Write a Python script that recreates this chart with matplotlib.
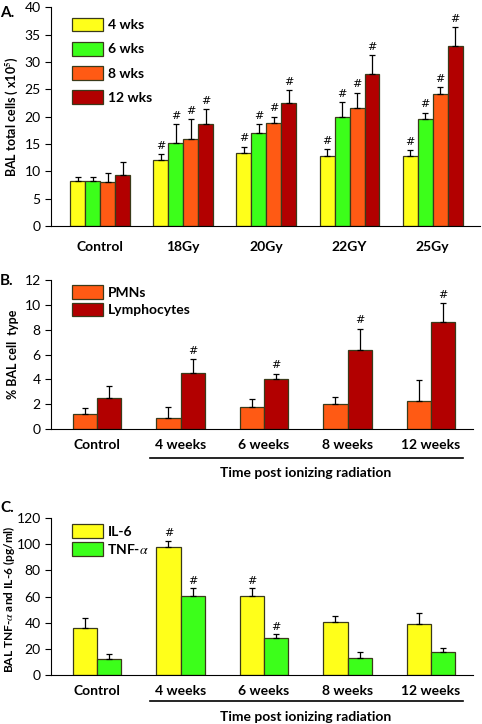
import numpy as np
import matplotlib.pyplot as plt
from matplotlib.lines import Line2D

plt.rcParams['font.family'] = ['Lato', 'DejaVu Sans']
plt.rcParams['mathtext.fontset'] = 'stix'

# ---- data ----
groups_a = ['Control', '18Gy', '20Gy', '22GY', '25Gy']
series_a = ['4 wks', '6 wks', '8 wks', '12 wks']
vals_a = [
    [8.3, 12.1, 13.3, 12.8, 12.8],
    [8.3, 15.2, 17.0, 20.0, 19.5],
    [8.0, 15.9, 18.8, 21.6, 24.1],
    [9.3, 18.6, 22.5, 27.8, 32.9],
]
errs_a = [
    [0.7, 1.0, 1.2, 1.2, 1.0],
    [0.6, 3.4, 1.6, 2.7, 1.2],
    [1.6, 3.6, 1.2, 2.8, 1.3],
    [2.4, 2.8, 2.3, 3.5, 3.5],
]
sig_a = [
    [0, 1, 1, 1, 1],
    [0, 1, 1, 1, 1],
    [0, 1, 1, 1, 1],
    [0, 1, 1, 1, 1],
]

groups_bc = ['Control', '4 weeks', '6 weeks', '8 weeks', '12 weeks']
series_b = ['PMNs', 'Lymphocytes']
vals_b = [
    [1.18, 0.88, 1.74, 1.98, 2.25],
    [2.49, 4.52, 4.01, 6.39, 8.61],
]
errs_b = [
    [0.48, 0.86, 0.67, 0.56, 1.68],
    [0.96, 1.12, 0.46, 1.71, 1.52],
]
sig_b = [
    [0, 0, 0, 0, 0],
    [0, 1, 1, 1, 1],
]

series_c = ['IL-6', r'TNF-$\alpha$']
vals_c = [
    [35.8, 97.5, 60.7, 40.4, 38.6],
    [12.2, 60.7, 28.4, 12.7, 17.3],
]
errs_c = [
    [7.6, 5.3, 5.5, 5.0, 8.6],
    [4.0, 5.5, 2.8, 4.8, 3.7],
]
sig_c = [
    [0, 1, 1, 0, 0],
    [0, 1, 1, 0, 0],
]

yellow = '#ffff1a'
green = '#3cff1a'
orange = '#ff5a14'
darkred = '#b20000'

fig = plt.figure(figsize=(4.82, 7.24), dpi=100)


def bar_panel(ax, groups, series, vals, errs, sig, colors, width, ymax, ystep,
              ylabel, hash_off, xlim, pad=7, ylsize=9):
    x = np.arange(len(groups))
    n = len(series)
    for i in range(n):
        pos = x + (i - (n - 1) / 2) * width
        ax.bar(pos, vals[i], width, color=colors[i], edgecolor='#3a3a1a',
               linewidth=0.9, label=series[i], zorder=2)
        ax.errorbar(pos, vals[i], yerr=[np.zeros(len(groups)), errs[i]],
                    fmt='none', ecolor='black', elinewidth=0.9, capsize=2.5,
                    capthick=0.9, zorder=3)
        for j in range(len(groups)):
            if sig[i][j]:
                ax.text(pos[j], vals[i][j] + errs[i][j] + hash_off, '#',
                        ha='center', va='bottom', fontsize=8,
                        family='DejaVu Sans')
    ax.set_xlim(*xlim)
    ax.set_ylim(0, ymax)
    ax.set_yticks(np.arange(0, ymax + 0.01, ystep))
    ax.set_xticks(x)
    ax.set_xticklabels(groups, fontweight='bold', fontsize=10)
    ax.tick_params(axis='x', length=0, pad=pad)
    ax.tick_params(axis='y', labelsize=10, length=4, direction='out')
    ax.spines['top'].set_visible(False)
    ax.spines['right'].set_visible(False)
    ax.set_ylabel(ylabel, fontweight='bold', fontsize=ylsize)
    return ax


leg_kw = dict(loc='upper left', frameon=False, handlelength=2.2,
              handleheight=1.15, handletextpad=0.35,
              prop={'weight': 'bold', 'size': 10})

# panel A
axA = fig.add_axes([0.106, 0.688, 0.89, 0.302])
bar_panel(axA, groups_a, series_a, vals_a, errs_a, sig_a,
          [yellow, green, orange, darkred], 0.18, 40, 5,
          r'BAL total cells ( x10$^\mathbf{5}$)', 0.6, (-0.59, 4.57), pad=11)
axA.legend(bbox_to_anchor=(0.02, 1.01), labelspacing=0.75, **leg_kw)
axA.yaxis.set_label_coords(-0.073, 0.5)
fig.text(0.0, 0.992, 'A.', fontweight='bold', fontsize=11, va='top')

# panel B
axB = fig.add_axes([0.106, 0.4075, 0.875, 0.2055])
bar_panel(axB, groups_bc, series_b, vals_b, errs_b, sig_b,
          [orange, darkred], 0.29, 12, 2,
          '% BAL cell  type', 0.25, (-0.55, 4.5))
axB.legend(bbox_to_anchor=(0.02, 1.05), labelspacing=0.25, **leg_kw)
axB.yaxis.set_label_coords(-0.075, 0.5)
fig.text(0.0, 0.622, 'B.', fontweight='bold', fontsize=11, va='top')

# panel C
axC = fig.add_axes([0.106, 0.0677, 0.875, 0.2168])
bar_panel(axC, groups_bc, series_c, vals_c, errs_c, sig_c,
          [yellow, green], 0.29, 120, 20,
          r'BAL TNF-$\alpha$ and IL-6 (pg/ml)', 2.0, (-0.55, 4.5), ylsize=8.6)
axC.legend(bbox_to_anchor=(0.02, 1.04), labelspacing=0.25, **leg_kw)
axC.yaxis.set_label_coords(-0.082, 0.48)
fig.text(0.0, 0.308, 'C.', fontweight='bold', fontsize=11, va='top')

# bracket lines under the time-course groups
for yline, ytxt in [(1 - 457.7 / 724, 1 - 472.7 / 724),
                    (1 - 700.7 / 724, 1 - 716.7 / 724)]:
    fig.add_artist(Line2D([150 / 482, 463 / 482], [yline, yline],
                          color='black', lw=1.2))
    fig.text(306 / 482, ytxt, 'Time post ionizing radiation',
             ha='center', va='center', fontweight='bold', fontsize=10)

fig.savefig('out.png', dpi=100)
